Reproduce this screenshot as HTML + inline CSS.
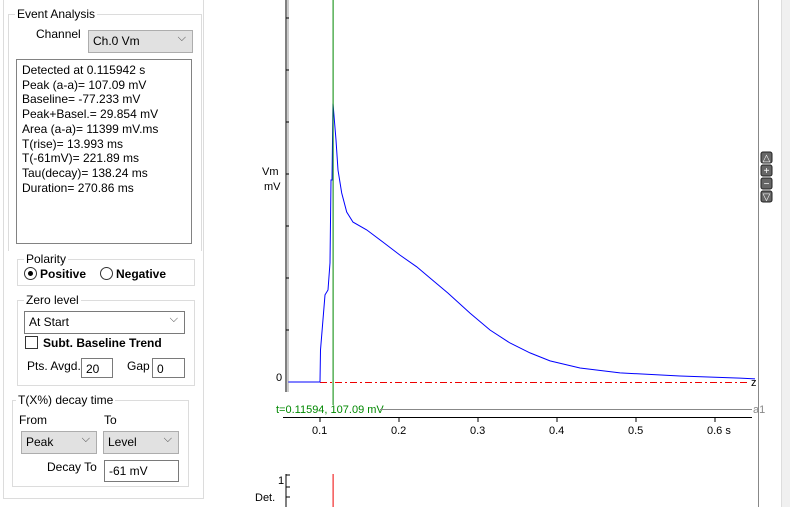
<!DOCTYPE html>
<html><head><meta charset="utf-8"><style>
body{margin:0;width:790px;height:507px;background:#fff;font-family:"Liberation Sans",sans-serif;font-size:12px;color:#000;position:relative;overflow:hidden}
.a{position:absolute}
.grp{position:absolute;border:1px solid #dcdcdc}
.lg{position:absolute;background:#fff;padding:0 2px;top:-8px;left:8px;font-size:12px}
.sel{position:absolute;border:1px solid #adadad;background:#e1e1e1;font-size:12px;box-sizing:border-box;padding:3px 4px}
.sel.w{background:#fff;border-color:#7a7a7a}
.sel:after{content:"⌵";position:absolute;right:6px;top:1px;font-size:11px;color:#444}
.inp{position:absolute;border:1px solid #7a7a7a;background:#fff;box-sizing:border-box;padding:3px 4px;font-size:12px}
</style></head><body>
<div class="a" style="left:3px;top:-2px;width:199px;height:499px;border:1px solid #dcdcdc;background:#fff"></div>
<div class="grp" style="left:8px;top:14px;width:192px;height:236px;border-bottom:none">
<span class="lg" style="left:6px">Event Analysis</span></div>
<div class="a" style="left:36px;top:27px">Channel</div>
<div class="sel" style="left:88px;top:30px;width:105px;height:23px">Ch.0 Vm</div>
<div class="a" style="left:16px;top:59px;width:176px;height:185px;border:1px solid #828282;box-sizing:border-box;padding:3px 5px;line-height:14.7px">Detected at 0.115942 s<br>Peak (a-a)= 107.09 mV<br>Baseline= -77.233 mV<br>Peak+Basel.= 29.854 mV<br>Area (a-a)= 11399 mV.ms<br>T(rise)= 13.993 ms<br>T(-61mV)= 221.89 ms<br>Tau(decay)= 138.24 ms<br>Duration= 270.86 ms</div>
<div class="grp" style="left:17px;top:259px;width:176px;height:25px"><span class="lg" style="left:6px">Polarity</span></div>
<div class="a" style="left:24px;top:267px;font-weight:bold"><span style="display:inline-block;width:11px;height:11px;border:1px solid #333;border-radius:50%;vertical-align:-2px;position:relative;margin-right:3px"><span style="position:absolute;left:3px;top:3px;width:5px;height:5px;border-radius:50%;background:#000"></span></span>Positive</div>
<div class="a" style="left:100px;top:267px;font-weight:bold"><span style="display:inline-block;width:11px;height:11px;border:1px solid #333;border-radius:50%;vertical-align:-2px;margin-right:3px"></span>Negative</div>
<div class="grp" style="left:17px;top:300px;width:176px;height:84px"><span class="lg" style="left:6px">Zero level</span></div>
<div class="sel w" style="left:24px;top:311px;width:161px;height:23px">At Start</div>
<div class="a" style="left:25px;top:336px;font-weight:bold"><span style="display:inline-block;width:11px;height:11px;border:1px solid #333;vertical-align:-2px;margin-right:5px"></span>Subt. Baseline Trend</div>
<div class="a" style="left:27px;top:359px">Pts. Avgd.</div>
<div class="inp" style="left:81px;top:358px;width:32px;height:20px">20</div>
<div class="a" style="left:127px;top:359px">Gap</div>
<div class="inp" style="left:152px;top:358px;width:33px;height:20px">0</div>
<div class="grp" style="left:12px;top:400px;width:175px;height:85px"><span class="lg" style="left:3px">T(X%) decay time</span></div>
<div class="a" style="left:19px;top:413px">From</div>
<div class="a" style="left:104px;top:413px">To</div>
<div class="sel" style="left:21px;top:431px;width:76px;height:23px">Peak</div>
<div class="sel" style="left:103px;top:431px;width:76px;height:23px">Level</div>
<div class="a" style="left:47px;top:460px">Decay To</div>
<div class="inp" style="left:104px;top:460px;width:75px;height:22px">-61 mV</div>

<div class="a" style="left:781px;top:0;width:9px;height:507px;background:#f0f0f0;border-left:1px solid #ddd"></div>
<svg class="a" style="left:0;top:0" width="790" height="507">
<g font-family="Liberation Sans, sans-serif" font-size="11">
<line x1="758.5" y1="0" x2="758.5" y2="507" stroke="#888"/>
<g id="btns"></g>
<line x1="286" y1="0" x2="286" y2="392" stroke="#000"/>
<line x1="288" y1="0" x2="288" y2="392" stroke="#999"/>
<g id="yt"></g>
<text x="262" y="175">Vm</text>
<text x="264" y="190">mV</text>
<text x="276" y="381">0</text>
<line id="zl" stroke="#e00" stroke-dasharray="7,3,2,3"/>
<text x="751" y="386">z</text>
<polyline id="trace" fill="none" stroke="#00f" stroke-width="1"/>
<line id="gl" y1="0" y2="405" stroke="#080"/>
<text x="276" y="413" fill="#080">t=0.11594, 107.09 mV</text>
<line x1="380" y1="409.5" x2="752" y2="409.5" stroke="#888"/>
<text x="753" y="413" fill="#888">a1</text>
<line x1="283" y1="417.5" x2="752" y2="417.5" stroke="#000"/>
<g id="xt"></g>
<line x1="286" y1="474" x2="286" y2="507" stroke="#000"/>
<line x1="286" y1="475" x2="290" y2="475" stroke="#000"/><line x1="286" y1="487" x2="290" y2="487" stroke="#000"/><line x1="286" y1="497" x2="290" y2="497" stroke="#000"/>
<text x="278" y="484">1</text>
<text x="255" y="501">Det.</text>
<line id="dl" y1="474" y2="507" stroke="#e00"/>
</g></svg>
<script>
const times=[0.06,0.1,0.1006,0.1063,0.1101,0.1127,0.1139,0.1152,0.1165,0.1203,0.1228,0.1275,0.1338,0.1418,0.1591,0.1797,0.2013,0.2224,0.2392,0.262,0.2899,0.3152,0.3405,0.3658,0.3911,0.4291,0.4797,0.5557,0.6316,0.6506];
const vm=[0,0,12.3,33.5,35.4,45.8,77.7,77.7,107.09,93.1,81.5,72.7,65.4,61.5,58.5,53.8,48.8,44.3,40,34.2,26.5,20,15,11.2,8.1,5.4,3.5,2.3,1.5,1.2];
const xTicks=[0.1,0.2,0.3,0.4,0.5,0.6];
const xTickLabels=["0.1","0.2","0.3","0.4","0.5","0.6 s"];
const yTicks=[20,40,60,80,100,120,140];
const peakT=0.11594;
const X=t=>320+(t-0.1)*790, Y=v=>382-v*2.6;
const ns="http://www.w3.org/2000/svg";
document.getElementById('trace').setAttribute('points',times.map((t,i)=>X(t).toFixed(1)+','+Y(vm[i]).toFixed(1)).join(' '));
const gl=document.getElementById('gl');gl.setAttribute('x1',X(peakT)+0.5);gl.setAttribute('x2',X(peakT)+0.5);
const dl=document.getElementById('dl');dl.setAttribute('x1',X(peakT)+0.5);dl.setAttribute('x2',X(peakT)+0.5);
const zl=document.getElementById('zl');zl.setAttribute('x1',X(0.1));zl.setAttribute('x2',750);zl.setAttribute('y1',Y(0)+0.5);zl.setAttribute('y2',Y(0)+0.5);
const xt=document.getElementById('xt');
xTicks.forEach((t,i)=>{const l=document.createElementNS(ns,'line');


l.setAttribute('x1',X(t));l.setAttribute('x2',X(t));l.setAttribute('y1',417);l.setAttribute('y2',422);l.setAttribute('stroke','#000');xt.appendChild(l);
const s=document.createElementNS(ns,'text');


s.setAttribute('x',X(t)-8);s.setAttribute('y',434);s.textContent=xTickLabels[i];xt.appendChild(s);});
const yt=document.getElementById('yt');
yTicks.forEach(v=>{const l=document.createElementNS(ns,'line');


l.setAttribute('x1',286);l.setAttribute('x2',289);l.setAttribute('y1',Y(v));l.setAttribute('y2',Y(v));l.setAttribute('stroke','#000');yt.appendChild(l);});
const b=document.getElementById('btns');
['△','+','−','▽'].forEach((c,i)=>{const r=document.createElementNS(ns,'rect');


r.setAttribute('x',761);r.setAttribute('y',152+i*13);r.setAttribute('width',11);r.setAttribute('height',11);r.setAttribute('rx',2);r.setAttribute('fill','#666');r.setAttribute('stroke','#222');b.appendChild(r);
const s=document.createElementNS(ns,'text');


s.setAttribute('x',766.5);s.setAttribute('y',161+i*13);s.setAttribute('fill','#fff');s.setAttribute('font-size','10');s.setAttribute('text-anchor','middle');s.textContent=c;b.appendChild(s);});
</script>
</body></html>
